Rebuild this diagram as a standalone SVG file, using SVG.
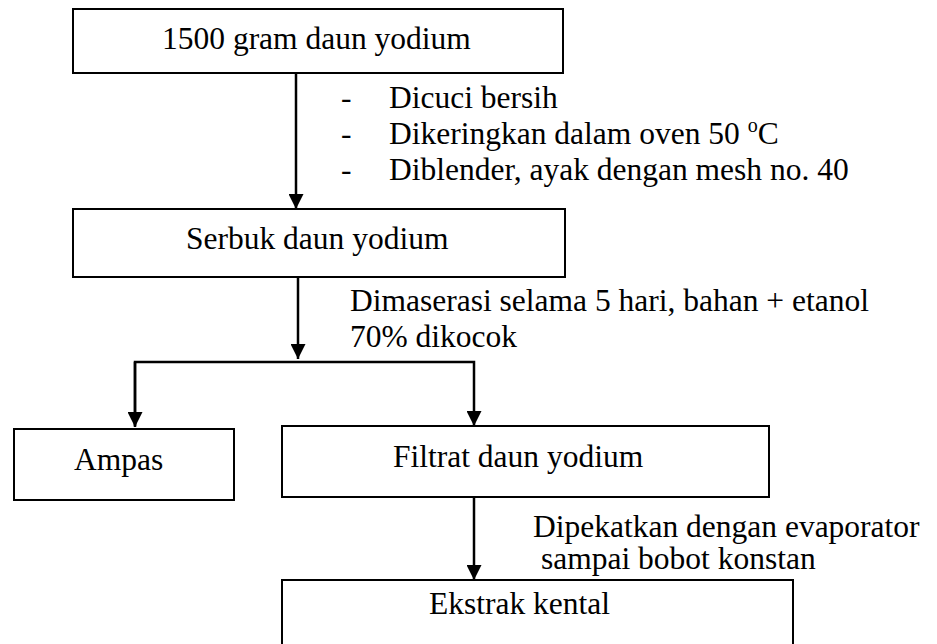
<svg xmlns="http://www.w3.org/2000/svg" width="937" height="644" viewBox="0 0 937 644">
<defs>
<style>
.box{fill:#fff;stroke:#000;stroke-width:2}
.t{font-family:"Liberation Serif","Times New Roman",serif;font-size:31.5px;fill:#000}
.c{fill:none;stroke:#000;stroke-width:2.5}
</style>
<marker id="ah" markerUnits="userSpaceOnUse" markerWidth="15" markerHeight="15" refX="15" refY="7.5" orient="auto" viewBox="0 0 15 15">
<path d="M0,0 L15,7.5 L0,15 z" fill="#000"/>
</marker>
</defs>
<rect width="937" height="644" fill="#fff"/>
<g id="connectors">
<line class="c" x1="296" y1="73" x2="296" y2="209" marker-end="url(#ah)"/>
<line class="c" x1="298" y1="268" x2="298" y2="359" marker-end="url(#ah)"/>
<polyline class="c" points="135,426 135,362 474,362 474,426" marker-end="url(#ah)"/>
<line class="c" x1="135" y1="362" x2="135" y2="427" marker-end="url(#ah)"/>
<line class="c" x1="474" y1="497" x2="474" y2="580" marker-end="url(#ah)"/>
</g>
<g id="node-daun">
<rect class="box" x="73" y="9" width="490" height="64"/>
<text class="t" x="162" y="49">1500 gram daun yodium</text>
</g>
<g id="label-1">
<text class="t" x="341" y="108">-</text>
<text class="t" x="389" y="108">Dicuci bersih</text>
<text class="t" x="341" y="144">-</text>
<text class="t" x="389" y="144">Dikeringkan dalam oven 50 <tspan font-size="20" dy="-12">o</tspan><tspan dy="12">C</tspan></text>
<text class="t" x="341" y="180">-</text>
<text class="t" x="389" y="180">Diblender, ayak dengan mesh no. 40</text>
</g>
<g id="node-serbuk">
<rect class="box" x="73" y="209" width="492" height="68"/>
<text class="t" x="186" y="249">Serbuk daun yodium</text>
</g>
<g id="label-2">
<text class="t" x="350" y="311">Dimaserasi selama 5 hari, bahan + etanol</text>
<text class="t" x="350" y="347">70% dikocok</text>
</g>
<g id="node-ampas">
<rect class="box" x="14" y="429" width="220" height="71"/>
<text class="t" x="74" y="470">Ampas</text>
</g>
<g id="node-filtrat">
<rect class="box" x="282" y="426" width="487" height="71"/>
<text class="t" x="393" y="467">Filtrat daun yodium</text>
</g>
<g id="label-3">
<text class="t" x="533" y="537">Dipekatkan dengan evaporator</text>
<text class="t" x="541" y="569">sampai bobot konstan</text>
</g>
<g id="node-ekstrak">
<rect class="box" x="282" y="580" width="511" height="80"/>
<text class="t" x="429" y="614">Ekstrak kental</text>
</g>
</svg>
